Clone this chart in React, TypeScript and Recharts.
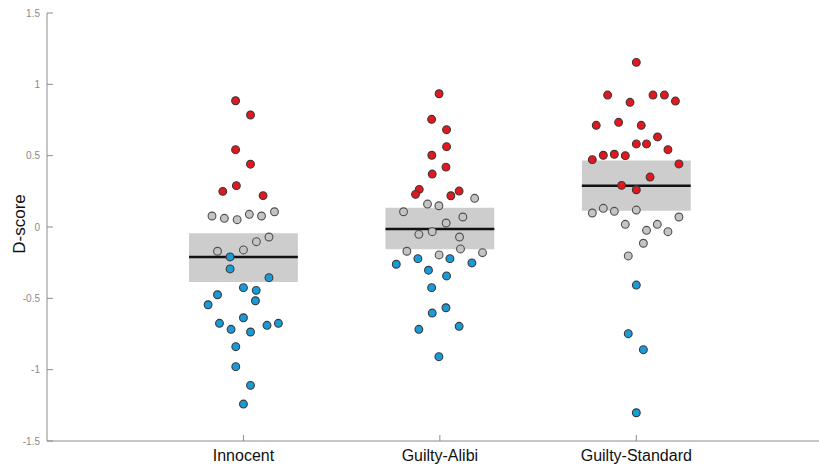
import { ScatterChart, Scatter, XAxis, YAxis, ReferenceArea, ReferenceLine } from 'recharts';

// groups sit at x = 1, 2, 3; points are [x jitter, D-score]
const categories = ['Innocent', 'Guilty-Alibi', 'Guilty-Standard'];
const yTicks = [-1.5, -1, -0.5, 0, 0.5, 1, 1.5];

const boxLow = [-0.385, -0.156, 0.114];
const boxHigh = [-0.044, 0.135, 0.466];
const medians = [-0.21, -0.014, 0.289];
const boxHalf = 0.277;

const innocentRed = [[-0.04, 0.885], [0.036, 0.785], [-0.04, 0.542], [0.036, 0.44], [-0.036, 0.29], [-0.105, 0.25], [0.1, 0.22]];
const innocentGrey = [[-0.16, 0.077], [-0.097, 0.061], [-0.032, 0.051], [0.03, 0.089], [0.092, 0.077], [0.158, 0.107], [0.066, -0.103], [0.13, -0.07], [-0.132, -0.17], [0, -0.161]];
const innocentBlue = [[-0.068, -0.21], [-0.068, -0.294], [0.13, -0.355], [0, -0.425], [0.065, -0.444], [-0.132, -0.475], [0.061, -0.517], [-0.18, -0.545], [0, -0.636], [-0.122, -0.675], [-0.063, -0.717], [0.036, -0.736], [0.12, -0.689], [0.178, -0.675], [-0.039, -0.839], [-0.039, -0.979], [0.036, -1.11], [0, -1.241]];

const alibiRed = [[-0.004, 0.934], [-0.042, 0.755], [0.034, 0.682], [0.034, 0.563], [-0.041, 0.503], [0.031, 0.42], [-0.039, 0.371], [-0.105, 0.264], [-0.124, 0.229], [0.056, 0.219], [0.098, 0.252]];
const alibiGrey = [[0.177, 0.201], [-0.063, 0.161], [-0.005, 0.149], [-0.185, 0.107], [0.117, 0.07], [0.032, 0.028], [-0.107, -0.051], [-0.039, -0.033], [0.1, -0.07], [-0.168, -0.17], [-0.004, -0.196], [0.105, -0.154], [0.217, -0.18]];
const alibiBlue = [[-0.222, -0.261], [-0.112, -0.222], [0.051, -0.222], [0.163, -0.252], [-0.058, -0.303], [0.034, -0.343], [-0.042, -0.425], [0.031, -0.566], [-0.039, -0.603], [-0.107, -0.717], [0.098, -0.696], [-0.005, -0.909]];

const standardRed = [[0, 1.154], [-0.146, 0.925], [-0.032, 0.874], [0.085, 0.925], [0.143, 0.925], [0.199, 0.883], [-0.204, 0.713], [-0.09, 0.734], [0.025, 0.713], [0, 0.582], [0.052, 0.582], [0.108, 0.631], [0.161, 0.542], [-0.224, 0.472], [-0.168, 0.503], [-0.112, 0.51], [-0.056, 0.5], [0.217, 0.442], [0.07, 0.35], [-0.075, 0.292], [0, 0.261]];
const standardGrey = [[-0.224, 0.098], [-0.168, 0.131], [-0.112, 0.11], [0, 0.119], [0.217, 0.07], [-0.056, 0.019], [0.052, -0.023], [0.107, 0.019], [0.161, -0.033], [0.036, -0.114], [-0.041, -0.203]];
const standardBlue = [[0, -0.407], [-0.041, -0.748], [0.036, -0.86], [0, -1.302]];

const toPoints = (groups: number[][][]) =>
  groups.flatMap((pts, g) => pts.map(([dx, y]) => ({ x: g + 1 + dx, y })));

const redData = toPoints([innocentRed, alibiRed, standardRed]);
const greyData = toPoints([innocentGrey, alibiGrey, standardGrey]);
const blueData = toPoints([innocentBlue, alibiBlue, standardBlue]);

const AXIS = '#8c8c8c';

const dot = (fill: string, stroke: string) => (p: any) => (
  <circle cx={p.cx} cy={p.cy} r={3.9} fill={fill} stroke={stroke} strokeWidth={1.1} />
);

const YTick = (p: any) => (
  <g>
    <line x1={p.x + 7} x2={p.x + 13} y1={p.y} y2={p.y} stroke={AXIS} />
    <text x={p.x} y={p.y} textAnchor="end" dominantBaseline="central" fontSize={10} fill="#8a8a8a">
      {p.payload.value}
    </text>
  </g>
);

const XTick = (p: any) => (
  <g>
    <line x1={p.x} x2={p.x} y1={p.y} y2={p.y - 6} stroke={AXIS} />
    <text x={p.x} y={p.y + 20} textAnchor="middle" fontSize={16} fill="#111">
      {categories[p.payload.value - 1]}
    </text>
  </g>
);

export default function App() {
  return (
    <div style={{ position: 'absolute', left: 0, top: 0, fontFamily: '"Liberation Sans", Arial, sans-serif' }}>
      <ScatterChart width={819} height={467} margin={{ top: 13, right: 0, bottom: 0, left: 0 }}>
        <XAxis
          type="number" dataKey="x" domain={[0, 3.93]} ticks={[1, 2, 3]} allowDataOverflow
          height={26} tickSize={0} tickMargin={0} tickLine={false}
          axisLine={{ stroke: AXIS }} tick={<XTick />}
        />
        <YAxis
          type="number" dataKey="y" domain={[-1.5, 1.5]} ticks={yTicks} allowDataOverflow
          width={47} tickSize={0} tickMargin={7} tickLine={false}
          axisLine={{ stroke: AXIS }} tick={<YTick />}
          label={{
            content: () => (
              <text x={19} y={224} transform="rotate(-90 19 224)" textAnchor="middle"
                dominantBaseline="central" fontSize={17} fill="#111">D-score</text>
            ),
          }}
        />
        {categories.map((c, i) => (
          <ReferenceArea key={'box' + c} x1={i + 1 - boxHalf} x2={i + 1 + boxHalf}
            y1={boxLow[i]} y2={boxHigh[i]} fill="#cdcdcd" fillOpacity={1} stroke="none" />
        ))}
        {categories.map((c, i) => (
          <ReferenceLine key={'med' + c}
            segment={[{ x: i + 1 - boxHalf, y: medians[i] }, { x: i + 1 + boxHalf, y: medians[i] }]}
            stroke="#111" strokeWidth={2.5} />
        ))}
        <Scatter data={greyData} shape={dot('#c4c4c4', '#505050')} isAnimationActive={false} />
        <Scatter data={redData} shape={dot('#e3171e', '#3a3a3a')} isAnimationActive={false} />
        <Scatter data={blueData} shape={dot('#1b9ad8', '#3a3a3a')} isAnimationActive={false} />
      </ScatterChart>
    </div>
  );
}
